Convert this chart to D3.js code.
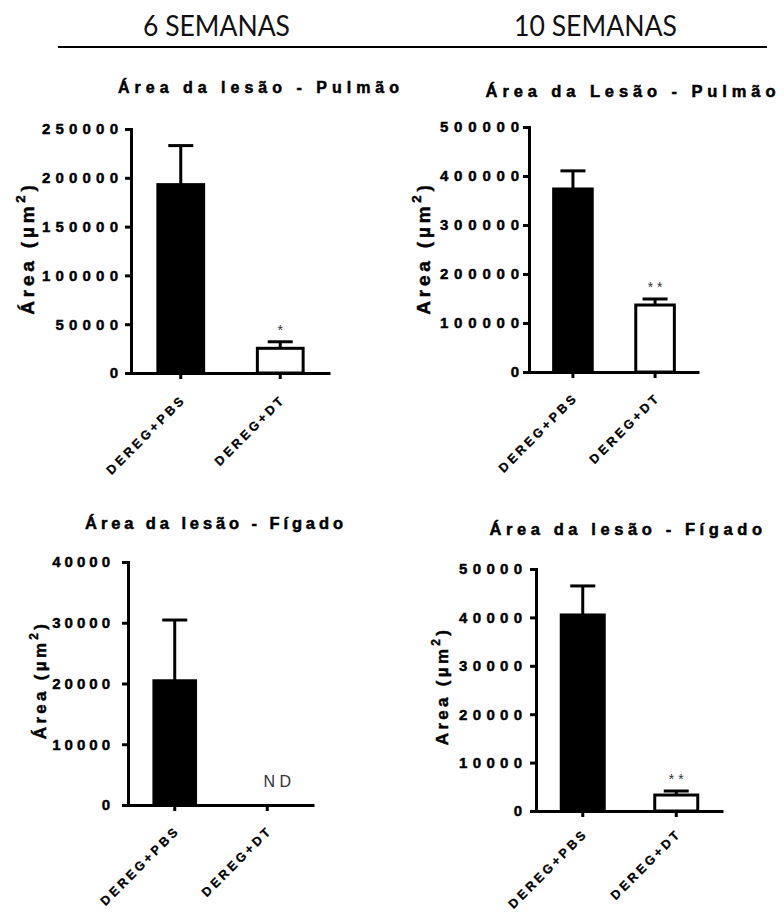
<!DOCTYPE html>
<html>
<head>
<meta charset="utf-8">
<script src="https://cdn.jsdelivr.net/npm/d3@7"></script>
<style>
  body { margin: 0; background: #fff; }
  svg { display: block; }
</style>
</head>
<body>
<svg id="fig" width="784" height="915"></svg>
<script>
// Groups and time points
const groups = ["DEREG+PBS", "DEREG+DT"];
const periods = ["6 SEMANAS", "10 SEMANAS"];

// Panel titles and y-axis titles
const titles = ["Área da lesão - Pulmão", "Área da Lesão - Pulmão", "Área da lesão - Fígado", "Área da lesão - Fígado"];
const yTitles = ["Área (µm", "Area (µm", "Área (µm", "Area (µm"];

// Lesion area, mean and SEM (µm²)
const lungWeek6Mean = [193000, 25300];
const lungWeek6Sem = [40000, 6700];
const lungWeek10Mean = [373500, 136700];
const lungWeek10Sem = [37000, 12300];
const liverWeek6Mean = [20450, null];
const liverWeek6Sem = [10000, null];
const liverWeek10Mean = [40500, 3300];
const liverWeek10Sem = [6000, 830];

// Y tick values
const lungWeek6Ticks = [0, 50000, 100000, 150000, 200000, 250000];
const lungWeek10Ticks = [0, 100000, 200000, 300000, 400000, 500000];
const liverWeek6Ticks = [0, 10000, 20000, 30000, 40000];
const liverWeek10Ticks = [0, 10000, 20000, 30000, 40000, 50000];

// Significance / annotation marks above bars
const lungWeek6Marks = ["", "*"];
const lungWeek10Marks = ["", "* *"];
const liverWeek6Marks = ["", "N D"];
const liverWeek10Marks = ["", "* *"];

const svg = d3.select("#fig");
const FONT = "'Liberation Sans', Arial, sans-serif";

// Bold GraphPad-style text: heavy sans with a hairline outline
function boldText(sel, size, ls) {
  return sel.attr("font-family", FONT)
    .attr("font-weight", "bold")
    .attr("font-size", size)
    .attr("letter-spacing", ls)
    .attr("fill", "#000")
    .attr("stroke", "#000")
    .attr("stroke-width", 0.45);
}

// Header: time points with rule underneath
const header = svg.append("g");
header.selectAll("text").data(periods).join("text")
  .attr("x", (d, i) => [216.5, 595.5][i])
  .attr("y", 36)
  .attr("text-anchor", "middle")
  .attr("font-family", "Lato, 'Open Sans', sans-serif")
  .attr("font-size", 29)
  .attr("textLength", (d, i) => [147, 163][i])
  .attr("lengthAdjust", "spacingAndGlyphs")
  .attr("fill", "#111")
  .text(d => d);
header.append("line")
  .attr("x1", 58).attr("x2", 767).attr("y1", 47).attr("y2", 47)
  .attr("stroke", "#000").attr("stroke-width", 2);

// Layout of each of the four panels
const panels = [
  { mean: lungWeek6Mean, sem: lungWeek6Sem, ticks: lungWeek6Ticks, marks: lungWeek6Marks, title: titles[0], yTitle: yTitles[0],
    left: 131, right: 330, top: 129, bottom: 373, pi: 0.54, po: 0.27, labelRight: 118, tickLs: 5.2,
    yTitleX: 34, yTitleY: 248, yTitleSize: 19, yTitleLs: 3.8, xlabDy: 27,
    titleX: 261, titleY: 93, titleSize: 16, titleLs: 5.0 },
  { mean: lungWeek10Mean, sem: lungWeek10Sem, ticks: lungWeek10Ticks, marks: lungWeek10Marks, title: titles[1], yTitle: yTitles[1],
    left: 529, right: 699, top: 127, bottom: 372, pi: 0.53, po: 0.3, labelRight: 519, tickLs: 5.8,
    yTitleX: 430, yTitleY: 248, yTitleSize: 19, yTitleLs: 3.8, xlabDy: 26,
    titleX: 633, titleY: 97, titleSize: 16.5, titleLs: 4.9 },
  { mean: liverWeek6Mean, sem: liverWeek6Sem, ticks: liverWeek6Ticks, marks: liverWeek6Marks, title: titles[2], yTitle: yTitles[2],
    left: 128, right: 314, top: 562, bottom: 805, pi: 0.55, po: 0.28, labelRight: 110, tickLs: 4.0,
    yTitleX: 46, yTitleY: 680, yTitleSize: 17, yTitleLs: 3.3, xlabDy: 26,
    titleX: 216, titleY: 529, titleSize: 16.5, titleLs: 3.9 },
  { mean: liverWeek10Mean, sem: liverWeek10Sem, ticks: liverWeek10Ticks, marks: liverWeek10Marks, title: titles[3], yTitle: yTitles[3],
    left: 536, right: 723, top: 569, bottom: 811, pi: 0.54, po: 0.27, labelRight: 522, tickLs: 5.3,
    yTitleX: 448, yTitleY: 686, yTitleSize: 17, yTitleLs: 3.3, xlabDy: 23,
    titleX: 628, titleY: 535, titleSize: 16.5, titleLs: 4.6 }
];

panels.forEach(p => {
  const g = svg.append("g");
  const y = d3.scaleLinear().domain([0, p.ticks[p.ticks.length - 1]]).range([p.bottom, p.top]);
  const x = d3.scaleBand().domain(groups).range([p.left, p.right]).paddingInner(p.pi).paddingOuter(p.po);

  // Bars (first group filled, second open)
  const rows = groups.map((k, i) => ({ key: k, mean: p.mean[i], sem: p.sem[i], mark: p.marks[i], i }));
  const drawn = rows.filter(r => r.mean != null);
  g.selectAll("rect.bar").data(drawn).join("rect")
    .attr("class", "bar")
    .attr("x", d => x(d.key))
    .attr("width", x.bandwidth())
    .attr("y", d => y(d.mean))
    .attr("height", d => p.bottom - y(d.mean))
    .attr("fill", d => d.i === 0 ? "#000" : "#fff")
    .attr("stroke", "#000")
    .attr("stroke-width", 3);

  // Upper error bars (mean + SEM)
  const cx = d => x(d.key) + x.bandwidth() / 2;
  g.selectAll("line.err").data(drawn).join("line")
    .attr("class", "err")
    .attr("x1", cx).attr("x2", cx)
    .attr("y1", d => y(d.mean)).attr("y2", d => y(d.mean + d.sem))
    .attr("stroke", "#000").attr("stroke-width", 3);
  g.selectAll("line.cap").data(drawn).join("line")
    .attr("class", "cap")
    .attr("x1", d => cx(d) - 12.5).attr("x2", d => cx(d) + 12.5)
    .attr("y1", d => y(d.mean + d.sem)).attr("y2", d => y(d.mean + d.sem))
    .attr("stroke", "#000").attr("stroke-width", 3);

  // Annotations: asterisks above error bars, "ND" on the baseline
  g.selectAll("text.mark").data(rows.filter(r => r.mark)).join("text")
    .attr("class", "mark")
    .attr("x", d => cx(d) + (d.mean == null ? 10 : 0))
    .attr("y", d => d.mean == null ? p.bottom - 18 : y(d.mean + d.sem) - 7)
    .attr("text-anchor", "middle")
    .attr("font-family", FONT)
    .attr("font-size", d => d.mean == null ? 16 : 14)
    .attr("fill", "#333")
    .text(d => d.mark);

  // Y axis
  const ya = g.append("g")
    .attr("transform", `translate(${p.left},0)`)
    .call(d3.axisLeft(y).tickValues(p.ticks).tickSize(6).tickSizeOuter(0).tickFormat(d3.format("d")));
  ya.select(".domain").attr("stroke-width", 3).attr("stroke-linecap", "square");
  ya.selectAll(".tick line").attr("stroke-width", 3);
  boldText(ya.selectAll(".tick text"), 15, p.tickLs)
    .attr("x", p.labelRight - p.left + p.tickLs);

  // X axis with slanted group labels
  const xa = g.append("g")
    .attr("transform", `translate(0,${p.bottom})`)
    .call(d3.axisBottom(x).tickSize(6).tickSizeOuter(0));
  xa.select(".domain").attr("stroke-width", 3);
  xa.selectAll(".tick line").attr("stroke-width", 3);
  boldText(xa.selectAll(".tick text"), 12.5, 3.2)
    .attr("x", 0).attr("y", 0).attr("dy", 0)
    .attr("stroke-width", 0.3)
    .attr("transform", `translate(6,${p.xlabDy}) rotate(-45)`)
    .attr("text-anchor", "end");

  // Y axis title with superscript
  const yt = boldText(g.append("text"), p.yTitleSize, p.yTitleLs)
    .attr("transform", `translate(${p.yTitleX},${p.yTitleY}) rotate(-90)`)
    .attr("text-anchor", "middle");
  yt.append("tspan").text(p.yTitle);
  yt.append("tspan").attr("font-size", p.yTitleSize * 0.7).attr("dy", -p.yTitleSize * 0.5).text("2");
  yt.append("tspan").attr("dy", p.yTitleSize * 0.5).text(")");

  // Panel title
  boldText(g.append("text"), p.titleSize, p.titleLs)
    .attr("x", p.titleX).attr("y", p.titleY)
    .attr("text-anchor", "middle")
    .attr("stroke-width", 0.5)
    .text(p.title);
});
</script>
</body>
</html>
